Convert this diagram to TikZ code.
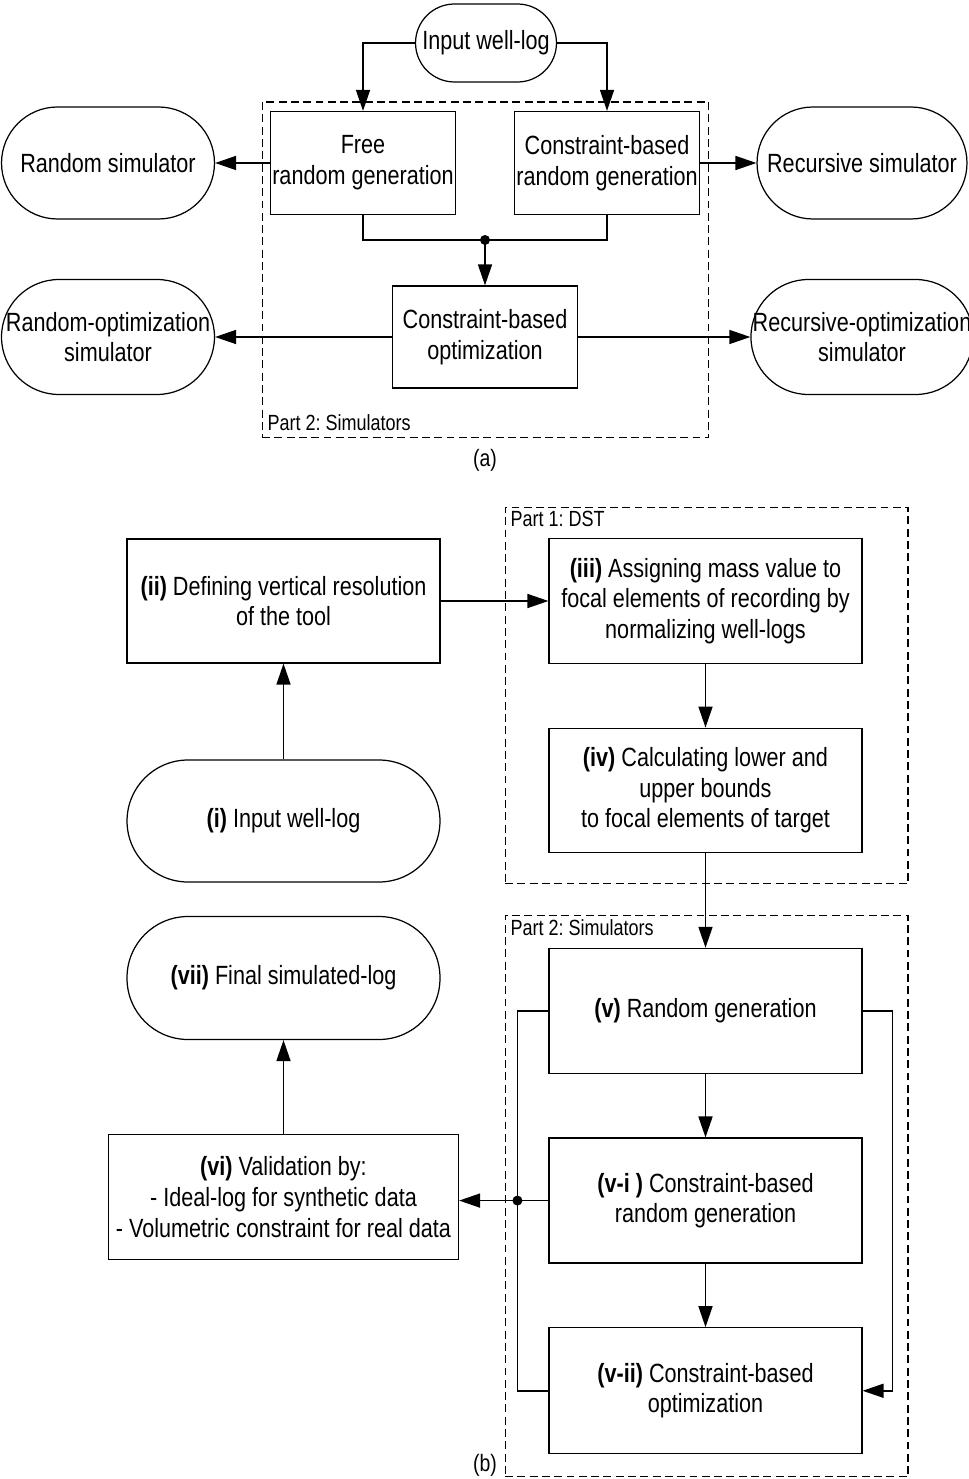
\documentclass[tikz,border=0pt]{standalone}
\usepackage{fontspec}
\setmainfont{Liberation Sans}[FakeStretch=0.82]
\usetikzlibrary{arrows.meta,positioning,calc}
\frenchspacing
\tikzset{
  procbox/.style={draw, line width=0.7pt, fill=white, align=center, inner sep=1pt,
    font=\fontsize{15}{17.5}\selectfont},
  termbox/.style={draw, line width=0.7pt, fill=white, align=center, inner sep=1pt,
    font=\fontsize{15}{17.5}\selectfont},
  partbox/.style={draw, line width=0.6pt, dash pattern=on 4.5pt off 2.5pt, inner sep=0pt},
  partlabel/.style={font=\fontsize{12.5}{14}\selectfont, inner sep=1pt},
  flow/.style={-{Triangle[length=0.42cm,width=0.28cm]}, line width=0.9pt},
  link/.style={line width=0.9pt},
  joint/.style={circle, fill, inner sep=0pt, minimum size=0.2cm}
}

\begin{document}
\begin{tikzpicture}[x=0.02cm, y=-0.02cm, node distance=1.27cm]
  \useasboundingbox (0,0) rectangle (969,1479);

  % (a) simulators
  \node[partbox, minimum width=8.94cm, minimum height=6.72cm] (simA) at (485.5,270) {};
  \node[partlabel, anchor=south west] (simAlbl) at ($(simA.south west)+(4,-6)$) {Part 2: Simulators};
  \node[termbox, rounded corners=0.78cm, minimum width=2.82cm, minimum height=1.56cm] (inA) at (486,43) {Input well-log};
  \node[procbox, minimum width=3.7cm, minimum height=2.06cm] (freeA) at (363,163) {Free\\random generation};
  \node[procbox, minimum width=3.7cm, minimum height=2.06cm] (consA) at (607,163) {Constraint-based\\random generation};
  \node[termbox, rounded corners=1.12cm, minimum width=4.26cm, minimum height=2.24cm] (randA) at (108,163) {Random simulator};
  \node[termbox, rounded corners=1.12cm, minimum width=4.2cm, minimum height=2.24cm] (recA) at (862,163) {Recursive simulator};
  \node[procbox, minimum width=3.7cm, minimum height=2.04cm] (optA) at (485,337) {Constraint-based\\optimization};
  \node[termbox, rounded corners=1.15cm, minimum width=4.26cm, minimum height=2.3cm] (ropA) at (108,337) {Random-optimization\\simulator};
  \node[termbox, rounded corners=1.15cm, minimum width=4.2cm, minimum height=2.3cm] (repA) at (862,337) {Recursive-optimization\\simulator};
  \coordinate (mergeA) at (485,240);
  \node[partlabel, font=\fontsize{13.5}{15}\selectfont] (capA) at (485,460) {(a)};

  \draw[flow] (inA.west) -| (freeA.north);
  \draw[flow] (inA.east) -| (consA.north);
  \draw[flow] (freeA.west) -- (randA.east);
  \draw[flow] (consA.east) -- (recA.west);
  \draw[link] (freeA.south) |- (mergeA) -| (consA.south);
  \node[joint] (mergeAdot) at (mergeA) {};
  \draw[flow] (mergeA) -- (optA.north);
  \draw[flow] (optA.west) -- (ropA.east);
  \draw[flow] (optA.east) -- (repA.west);

  % (b) whole workflow
  \node[partbox, minimum width=8.06cm, minimum height=7.54cm] (dstB) at (706.5,695.5) {};
  \node[partlabel, anchor=north west] (dstBlbl) at ($(dstB.north west)+(4,3)$) {Part 1: DST};
  \node[partbox, minimum width=8.06cm, minimum height=11.24cm] (simB) at (706.5,1196) {};
  \node[partlabel, anchor=north west] (simBlbl) at ($(simB.north west)+(4,3)$) {Part 2: Simulators};

  \node[procbox, minimum width=6.26cm, minimum height=2.48cm] (defB) at (283.5,601) {\textbf{(ii)} Defining vertical resolution\\of the tool};
  \node[procbox, minimum width=6.26cm, minimum height=2.5cm] (massB) at (705.5,601) {\textbf{(iii)} Assigning mass value to\\focal elements of recording by\\normalizing well-logs};
  \node[procbox, minimum width=6.26cm, minimum height=2.48cm, below=of massB] (boundB) {\textbf{(iv)} Calculating lower and\\upper bounds\\to focal elements of target};
  \node[termbox, rounded corners=1.22cm, minimum width=6.26cm, minimum height=2.44cm] (inB) at (283.5,821) {\textbf{(i)} Input well-log};
  \node[procbox, minimum width=6.26cm, minimum height=2.5cm, below=1.9cm of boundB] (randB) {\textbf{(v)} Random generation};
  \node[procbox, minimum width=6.26cm, minimum height=2.5cm, below=of randB] (crgB) {\textbf{(v-i )} Constraint-based\\random generation};
  \node[procbox, minimum width=6.26cm, minimum height=2.52cm, below=of crgB] (optB) {\textbf{(v-ii)} Constraint-based\\optimization};
  \node[termbox, rounded corners=1.22cm, minimum width=6.26cm, minimum height=2.46cm] (finB) at (283.5,978) {\textbf{(vii)} Final simulated-log};
  \node[procbox, minimum width=7cm, minimum height=2.5cm] (valB) at (283.5,1197) {\textbf{(vi)} Validation by:\\- Ideal-log for synthetic data\\- Volumetric constraint for real data};
  \node[partlabel, font=\fontsize{13.5}{15}\selectfont] (capB) at (485,1465) {(b)};

  \coordinate (loopL) at ($(crgB.west)+(-31,0)$);
  \coordinate (loopR) at ($(randB.east)+(30,0)$);

  \draw[flow] (inB.north) -- (defB.south);
  \draw[flow] (defB.east) -- (massB.west);
  \draw[flow] (massB.south) -- (boundB.north);
  \draw[flow] (boundB.south) -- (randB.north);
  \draw[flow] (randB.south) -- (crgB.north);
  \draw[flow] (crgB.south) -- (optB.north);
  \draw[flow] (valB.north) -- (valB.north |- finB.south);
  \draw[link] (randB.west) -| (loopL) |- (optB.west);
  \draw[link] (crgB.west) -- (loopL);
  \node[joint] (loopLdot) at (loopL) {};
  \draw[flow] (loopL) -- (loopL -| valB.east);
  \draw[flow] (randB.east) -- (loopR) |- (optB.east);
\end{tikzpicture}
\end{document}
